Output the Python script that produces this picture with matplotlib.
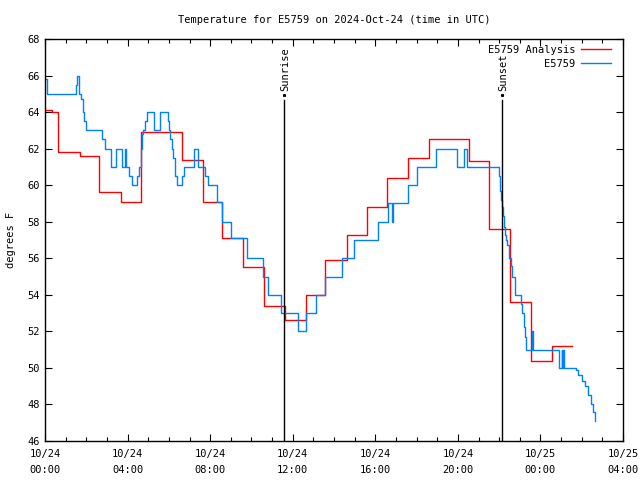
import numpy as np
import matplotlib
matplotlib.use("Agg")
import matplotlib.pyplot as plt
from matplotlib.ticker import MultipleLocator

# hours since 2024-10-24 00:00 UTC, value holds until the next change
analysis_hours = [0.0, 0.35, 0.64, 1.68, 2.62, 3.68, 4.65, 6.62, 7.64, 8.59, 9.61,
                  10.61, 11.63, 12.62, 13.58, 14.62, 15.58, 16.58, 17.6, 18.6,
                  19.91, 20.2, 20.55, 21.52, 22.54, 23.54, 24.58, 25.51]
analysis_temp = [64.1, 64.0, 61.8, 61.6, 59.6, 59.1, 62.9, 61.4, 59.1, 57.1, 55.5,
                 53.4, 52.6, 54.0, 55.9, 57.3, 58.8, 60.4, 61.5, 62.55,
                 62.5, 62.55, 61.3, 57.6, 53.6, 50.4, 51.2, 51.2]

obs_hours = [0.0, 0.1, 1.49, 1.56, 1.63, 1.72, 1.82, 1.91, 1.99, 2.78, 2.91,
             3.2, 3.44, 3.73, 3.88, 3.94, 4.06, 4.2, 4.44, 4.57, 4.64, 4.68,
             4.76, 4.84, 4.93, 5.29, 5.57, 5.97, 6.0, 6.06, 6.14, 6.21, 6.3,
             6.38, 6.46, 6.62, 6.72, 7.22, 7.39, 7.75, 7.91, 8.32, 8.59, 9.0,
             9.8, 10.58, 10.82, 11.42, 12.27, 12.63, 13.13, 13.58, 14.37,
             14.98, 16.12, 16.63, 16.79, 16.87, 17.6, 18.0, 18.93, 19.94,
             20.3, 20.43, 21.96, 21.99, 22.04, 22.09, 22.14, 22.19, 22.24,
             22.28, 22.33, 22.38, 22.48, 22.58, 22.62, 22.77, 23.06, 23.11,
             23.2, 23.25, 23.3, 23.58, 23.65, 24.92, 25.03, 25.06, 25.11,
             25.14, 25.72, 25.84, 26.0, 26.16, 26.32, 26.43, 26.53, 26.64]
obs_temp = [65.8, 65.0, 65.5, 66.0, 65.0, 64.7, 64.0, 63.5, 63.0, 62.5, 62.0,
            61.0, 62.0, 61.0, 62.0, 61.0, 60.5, 60.0, 60.5, 61.0, 62.0, 62.8,
            63.0, 63.5, 64.0, 63.0, 64.0, 63.5, 63.0, 62.5, 62.0, 61.5, 60.5,
            60.0, 60.0, 60.5, 61.0, 62.0, 61.0, 60.5, 60.0, 59.1, 58.0, 57.1,
            56.0, 55.0, 54.0, 53.0, 52.0, 53.0, 54.0, 55.0, 56.0,
            57.0, 58.0, 59.0, 58.0, 59.0, 60.0, 61.0, 62.0, 61.0,
            62.0, 61.0, 61.0, 60.5, 59.7, 59.2, 58.8, 58.3, 57.7,
            57.3, 57.0, 56.7, 56.0, 55.6, 55.0, 54.0, 53.5, 53.0,
            52.25, 51.7, 51.0, 52.0, 51.0, 50.0, 51.0, 50.0, 51.0,
            50.0, 49.9, 49.6, 49.3, 49.0, 48.5, 48.0, 47.6, 47.1]

sunrise = 11.58
sunset = 22.14

tick_hours = [0, 4, 8, 12, 16, 20, 24, 28]
tick_labels = ["10/24\n00:00", "10/24\n04:00", "10/24\n08:00", "10/24\n12:00",
               "10/24\n16:00", "10/24\n20:00", "10/25\n00:00", "10/25\n04:00"]

plt.rcParams['font.family'] = ['DejaVu Sans Mono']
plt.rcParams['font.size'] = 7.5

fig = plt.figure(figsize=(6.4, 4.8), dpi=100)
ax = fig.add_axes([45 / 640, 39 / 480, 578 / 640, 402 / 480])

ax.step(analysis_hours, analysis_temp, where='post', color='#ff0000', lw=1.0,
        label='E5759 Analysis')
ax.step(obs_hours, obs_temp, where='post', color='#0080ff', lw=1.0, label='E5759')

# sunrise / sunset markers: line up to a dot, label above it
for t, name in [(sunrise, 'Sunrise'), (sunset, 'Sunset')]:
    ax.plot([t, t], [46, 64.65], color='black', lw=1.0)
    ax.plot([t], [64.95], marker='s', ms=1.2, color='black')
    ax.text(t + 0.05, 65.15, name, rotation=90, ha='center', va='bottom')

ax.set_xlim(0, 28)
ax.set_ylim(46, 68)
ax.set_xticks(tick_hours)
ax.set_xticklabels(tick_labels, linespacing=1.7)
ax.xaxis.set_minor_locator(MultipleLocator(1))
ax.yaxis.set_major_locator(MultipleLocator(2))
ax.tick_params(which='both', direction='in', top=True, right=True, width=0.8)
ax.tick_params(which='major', length=5, pad=6)
ax.tick_params(which='minor', length=3)
ax.tick_params(axis='y', pad=4)
for s in ax.spines.values():
    s.set_linewidth(1.0)

fig.text(0.5 * (45 + 623) / 640, 1 - 20 / 480,
         'Temperature for E5759 on 2024-Oct-24 (time in UTC)',
         ha='center', va='center')
ax.set_ylabel('degrees F', labelpad=8)

ax.legend(loc='upper right', frameon=False, markerfirst=False, handlelength=2.9,
          borderaxespad=0.2, borderpad=0.35, labelspacing=0.4, handletextpad=0.6,
          bbox_to_anchor=(0.99, 1.0))

fig.savefig('out.png', dpi=100)
